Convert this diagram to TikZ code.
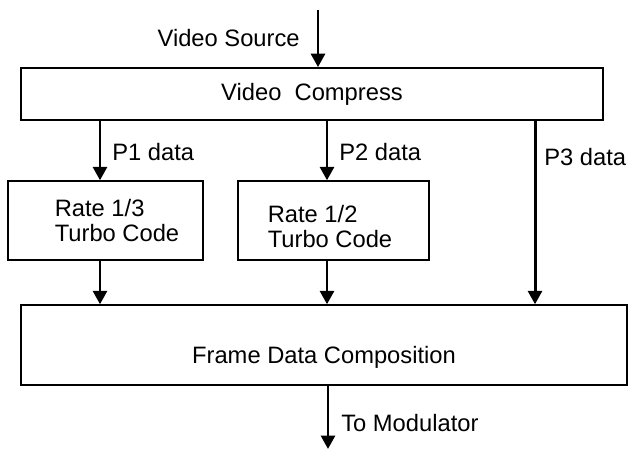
\documentclass[tikz,border=0pt]{standalone}
\usepackage{fontspec}
\setmainfont{Liberation Sans}
\usepackage{tikz}
\usetikzlibrary{arrows.meta}

\begin{document}
\begin{tikzpicture}[
    box/.style={rectangle, draw, line width=0.8pt, inner sep=0pt, text centered, font=\fontsize{13.5pt}{13.7pt}\selectfont},
    lbl/.style={inner sep=0pt, align=left, font=\fontsize{13.5pt}{13.7pt}\selectfont},
    arr/.style={-{Triangle[length=0.27cm, width=0.28cm]}, line width=1.7pt}
]
\useasboundingbox (0,0) rectangle (12.7,-9);

% Top block
\node[box, line width=1pt, minimum width=11.64cm, minimum height=1.04cm] (compress) at (6.24,-1.88) {Video~~Compress};
\coordinate (src) at (6.36,-0.2);
\node[lbl, anchor=east] (srclbl) at (6.0,-0.76) {Video Source};

% Coders
\node[box, minimum width=3.9cm, minimum height=1.58cm,
      label={[lbl, xshift=0.23cm]center:Rate 1/3\\Turbo Code}] (rate13) at (2.11,-4.41) {};
\node[box, minimum width=3.82cm, minimum height=1.58cm,
      label={[lbl, xshift=-0.07cm, yshift=-0.12cm]center:Rate 1/2\\Turbo Code}] (rate12) at (6.67,-4.41) {};

% Frame block
\node[box, minimum width=12.12cm, minimum height=1.6cm,
      label={[lbl, yshift=-0.24cm]center:Frame Data Composition}] (frame) at (6.48,-6.9) {};
\coordinate (out) at (6.56,-8.98);

% Arrow columns
\coordinate (p1) at (2.0,0);
\coordinate (p2) at (6.54,0);
\coordinate (p3) at (10.7,0);

% Data labels
\node[lbl, anchor=west] (p1lbl) at (2.24,-3.04) {P1 data};
\node[lbl, anchor=west] (p2lbl) at (6.78,-3.04) {P2 data};
\node[lbl, anchor=west] (p3lbl) at (10.88,-3.14) {P3 data};
\node[lbl, anchor=west] (outlbl) at (6.82,-8.46) {To Modulator};

% Arrows
\draw[arr] (src) -- (src |- compress.north);
\draw[arr] (p1 |- compress.south) -- (p1 |- rate13.north);
\draw[arr] (p2 |- compress.south) -- (p2 |- rate12.north);
\draw[arr] (p3 |- compress.south) -- (p3 |- frame.north);
\draw[arr] (p1 |- rate13.south) -- (p1 |- frame.north);
\draw[arr] (p2 |- rate12.south) -- (p2 |- frame.north);
\draw[arr] (out |- frame.south) -- (out);

\end{tikzpicture}
\end{document}
